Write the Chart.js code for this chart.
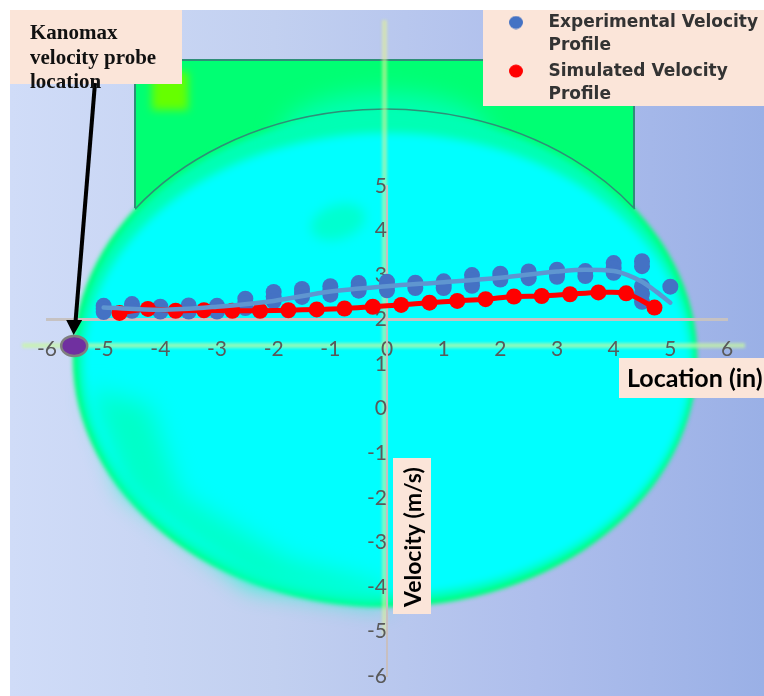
<!DOCTYPE html>
<html><head><meta charset="utf-8">
<style>html,body{margin:0;padding:0;background:#fff}canvas{display:block}</style>
<script src="https://cdn.jsdelivr.net/npm/chart.js@4"></script>
</head><body><canvas id="c" width="764" height="696"></canvas>
<script>
const experimentalX=[-5,-5,-5,-4.5,-4.5,-4.5,-4,-4,-3.5,-3.5,-3.5,-3,-3,-3,-2.5,-2.5,-2.5,-2,-2,-2,-1.5,-1.5,-1.5,-1,-1,-1,-0.5,-0.5,-0.5,0,0,0,0.5,0.5,1,1,1,1.5,1.5,1.5,2,2,2,2.5,2.5,2.5,3,3,3,3.5,3.5,4,4,4,4.5,4.5,4.5,4.5,4.5,5];
const experimentalY=[2.31,2.24,2.17,2.35,2.28,2.20,2.29,2.18,2.32,2.25,2.18,2.31,2.25,2.18,2.47,2.36,2.26,2.62,2.52,2.41,2.69,2.60,2.51,2.75,2.66,2.56,2.82,2.74,2.65,2.85,2.76,2.66,2.83,2.71,2.86,2.78,2.71,3.00,2.88,2.76,3.03,2.96,2.90,3.08,3.00,2.93,3.12,3.04,2.96,3.09,2.98,3.27,3.16,3.05,3.31,3.20,2.75,2.58,2.40,2.74];
const simulatedX=[-4.72,-4.22,-3.73,-3.23,-2.73,-2.24,-1.74,-1.24,-0.75,-0.25,0.25,0.75,1.24,1.74,2.24,2.73,3.23,3.73,4.22,4.72];
const simulatedY=[2.15,2.24,2.20,2.21,2.20,2.20,2.21,2.23,2.25,2.29,2.33,2.38,2.42,2.46,2.52,2.53,2.57,2.61,2.59,2.27];
const trendX=[-5,-4,-3,-2,-1,0,1,2,3,3.5,4,4.25,4.5,4.75,5];
const trendY=[2.27,2.22,2.29,2.42,2.63,2.75,2.84,2.94,3.08,3.12,3.09,3.00,2.85,2.63,2.38];
const xTicks=[-6,-5,-4,-3,-2,-1,0,1,2,3,4,5,6];
const yTicks=[-6,-5,-4,-3,-2,-1,0,1,2,3,4,5];
const probeLocation=[-5.52,1.41];
const legendLabels=[["Experimental Velocity","Profile"],["Simulated Velocity","Profile"]];
const xAxisTitle="Location (in)";
const yAxisTitle="Velocity (m/s)";
const probeNote=["Kanomax","velocity probe","location"];
const zip=(a,b)=>a.map((v,i)=>({x:v,y:b[i]}));

function marker(color){
  const cv=document.createElement('canvas');cv.width=31;cv.height=14;
  const g=cv.getContext('2d');g.fillStyle=color;g.beginPath();g.ellipse(7,7,7,6.5,0,0,Math.PI*2);g.fill();
  return cv;
}
function blurred(ctx,b,color,draw){
  ctx.save();ctx.filter='blur('+b+'px)';ctx.fillStyle=color;ctx.beginPath();draw();ctx.fill();ctx.restore();
}
const backdrop={
  id:'backdrop',
  afterLayout(chart){
    const y=chart.scales.y;
    y.top=186;y.bottom=676;y.height=490;y.configure();
    chart.chartArea.top=186;chart.chartArea.bottom=676;chart.chartArea.height=490;
  },
  beforeDraw(chart){
    const ctx=chart.ctx;
    ctx.save();
    ctx.fillStyle='#fff';ctx.fillRect(0,0,764,696);
    ctx.beginPath();ctx.rect(10,10,754,686);ctx.clip();
    const g=ctx.createLinearGradient(10,0,764,0);
    g.addColorStop(0,'#d0dcf8');g.addColorStop(.35,'#c2d0f0');g.addColorStop(.7,'#aebeec');g.addColorStop(1,'#9ab0e6');
    ctx.fillStyle=g;ctx.fillRect(10,10,754,686);
    // duct
    ctx.fillStyle='#00ff73';ctx.fillRect(135,60,499,150);
    blurred(ctx,4,'#66ff00',()=>ctx.rect(152,72,36,38));
    // soft halo and green edge of the circular section
    blurred(ctx,2,'#00ff73',()=>ctx.ellipse(385,358,312,249,0,0,Math.PI*2));
    blurred(ctx,3,'#00ffb4',()=>ctx.ellipse(385,358,308,245,0,0,Math.PI*2));
    blurred(ctx,12,'#00ffb4',()=>ctx.ellipse(385,135,105,42,0,0,Math.PI*2));
    blurred(ctx,4,'#00ffff',()=>ctx.ellipse(387,364,304,231,0,0,Math.PI*2));
    blurred(ctx,12,'#00ffc8',()=>{ctx.moveTo(90,390);ctx.lineTo(150,405);ctx.lineTo(180,495);ctx.lineTo(290,560);ctx.lineTo(385,585);ctx.lineTo(385,604);ctx.lineTo(250,585);ctx.lineTo(125,490);ctx.closePath();});
    blurred(ctx,6,'#00ffd0',()=>ctx.ellipse(338,222,28,17,-.3,0,Math.PI*2));
    // section outline
    ctx.strokeStyle='#2e8f78';ctx.lineWidth=2;
    ctx.beginPath();ctx.moveTo(135,208);ctx.lineTo(135,60);ctx.lineTo(634,60);ctx.lineTo(634,208);ctx.stroke();
    ctx.lineWidth=1.5;ctx.beginPath();ctx.ellipse(385,358,312,249,0,Math.PI+.642,Math.PI*2-.642);ctx.stroke();
    // pale cross of the background picture
    ctx.save();ctx.filter='blur(1.5px)';
    ctx.fillStyle='rgba(225,240,150,.6)';ctx.fillRect(382,20,5,615);
    ctx.fillStyle='rgba(200,250,160,.7)';ctx.fillRect(22,343,723,5);
    ctx.restore();
    ctx.restore();
    // panels behind texts
    ctx.fillStyle='#fbe5d9';
    ctx.fillRect(10,10,172,74);
    ctx.fillRect(483,10,281,96);
    ctx.fillRect(619,358,145,40);
    ctx.fillRect(393,458,38,156);
    const lg=chart.legend;
    lg.left=507;lg.right=764;lg.top=12;lg.bottom=118;
  },
  afterDraw(chart){
    const ctx=chart.ctx,px=chart.scales.x.getPixelForValue(probeLocation[0]),py=chart.scales.y.getPixelForValue(probeLocation[1]);
    // probe marker
    ctx.save();
    ctx.fillStyle='#7030a0';ctx.strokeStyle='#7f7f7f';ctx.lineWidth=2.5;
    ctx.beginPath();ctx.ellipse(px,py,13,10,0,0,Math.PI*2);ctx.fill();ctx.stroke();
    // arrow
    ctx.strokeStyle='#000';ctx.lineWidth=4;ctx.beginPath();ctx.moveTo(95,83);ctx.lineTo(75.5,322);ctx.stroke();
    ctx.fillStyle='#000';ctx.beginPath();ctx.moveTo(px-0.5,py-11);ctx.lineTo(px-8,py-26);ctx.lineTo(px+8,py-26);ctx.closePath();ctx.fill();
    // texts
    ctx.fillStyle='#111';ctx.textBaseline='alphabetic';ctx.textAlign='left';
    ctx.font='bold 21px "Liberation Serif"';
    probeNote.forEach((t,i)=>ctx.fillText(t,30,39+i*24.5));
    ctx.fillStyle='#000';
    ctx.font='bold 25px Lato';
    ctx.fillText(xAxisTitle,627,387);
    ctx.translate(421,607);ctx.rotate(-Math.PI/2);
    ctx.font='bold 23px Lato';
    ctx.fillText(yAxisTitle,0,0);
    ctx.restore();
  }
};
const tickFont={family:'Lato',size:21};
new Chart(document.getElementById('c'),{
  type:'scatter',
  data:{datasets:[
    {label:'Experimental trend',type:'line',data:zip(trendX,trendY),borderColor:'#5f96d0',borderWidth:4.5,pointRadius:0,cubicInterpolationMode:'monotone',borderCapStyle:'round',fill:false,order:0,clip:false},
    {label:'Simulated Velocity Profile',type:'line',data:zip(simulatedX,simulatedY),borderColor:'#ff0000',backgroundColor:'#ff0000',pointBackgroundColor:'#ff0000',pointBorderWidth:0,borderWidth:5,pointRadius:8,tension:.3,fill:false,order:1,clip:false},
    {label:'Experimental Velocity Profile',data:zip(experimentalX,experimentalY),backgroundColor:'#4472c4',borderWidth:0,pointRadius:8,order:2,clip:false}
  ]},
  plugins:[backdrop],
  options:{
    responsive:false,animation:false,
    layout:{padding:{left:47,right:37,top:186,bottom:20}},
    plugins:{
      tooltip:{enabled:false},
      legend:{
        display:true,position:'chartArea',align:'start',
        labels:{
          font:{family:'"DejaVu Sans"',size:17,weight:'bold',lineHeight:1.37},color:'#333',padding:2,
          usePointStyle:true,boxHeight:10,pointStyleWidth:31,
          generateLabels(){return [
            {text:legendLabels[0],fontColor:'#333',pointStyle:marker('#4472c4'),fillStyle:'#4472c4',strokeStyle:'#4472c4',lineWidth:0,datasetIndex:2},
            {text:legendLabels[1],fontColor:'#333',pointStyle:marker('#ff0000'),fillStyle:'#ff0000',strokeStyle:'#ff0000',lineWidth:0,datasetIndex:1}
          ];}
        }
      }
    },
    scales:{
      x:{type:'linear',min:-6,max:6,position:{y:2},
        grid:{display:false,drawTicks:false},
        border:{display:true,color:'#c6c2c2',width:3},
        afterBuildTicks(ax){ax.ticks=xTicks.map(v=>({value:v}));},
        ticks:{color:'#595959',font:tickFont,padding:17,maxRotation:0,autoSkip:false}},
      y:{type:'linear',min:-6,max:5,position:{x:0},
        grid:{display:false,drawTicks:false},
        border:{display:true,color:'#c8bfbf',width:2},
        afterBuildTicks(ax){ax.ticks=yTicks.map(v=>({value:v}));},
        ticks:{color:'#595959',font:tickFont,padding:24,autoSkip:false}}
    }
  }
});
</script></body></html>
